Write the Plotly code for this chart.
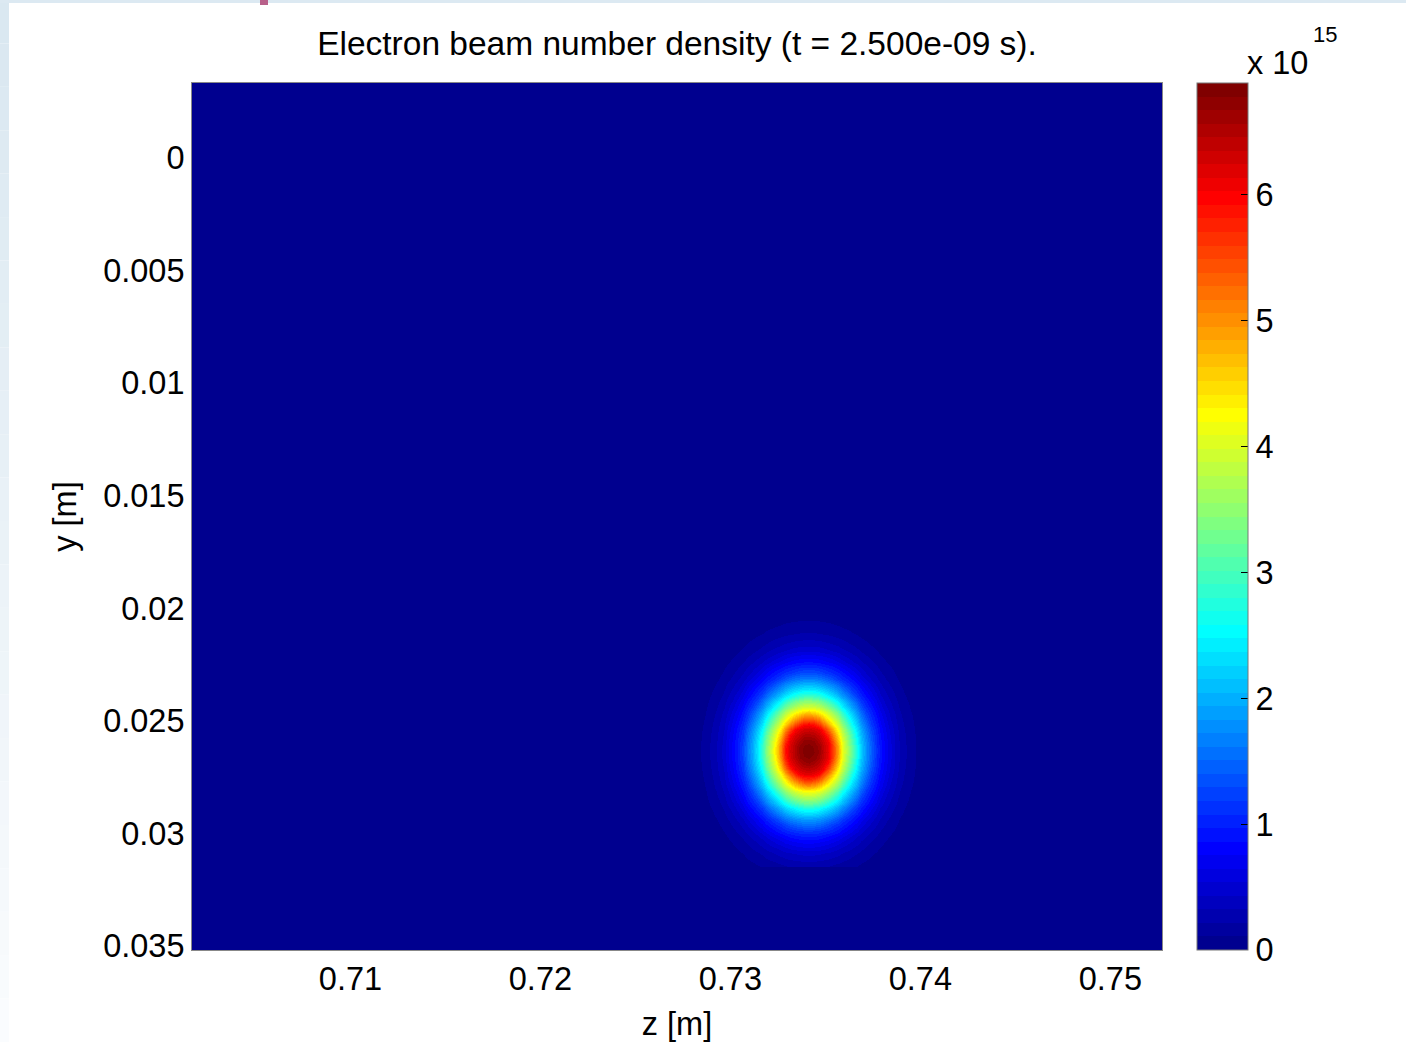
import numpy as np
import plotly.graph_objects as go

# ---------------- data ----------------
title_text = "Electron beam number density (t = 2.500e-09 s)."
peak_density = 6.89e15          # maximum value (top of colour bar)
beam_z0 = 0.7341                # beam centre, z [m]
beam_y0 = 0.02633               # beam centre, y [m]
y_over_z_aspect = 1.02          # beam is very slightly longer in y
y_cut = 0.03148                 # the halo is cut off below this y [m]

# radial density profile (distance [m] -> fraction of peak)
radial_dist = [0.0, 0.0005, 0.0010, 0.00115, 0.0015, 0.00176, 0.0022, 0.0026,
               0.0030, 0.0035, 0.0040, 0.0045, 0.0050, 0.0055, 0.00566,
               0.0060, 0.0065, 0.0070]
radial_frac = [1.0, 0.975, 0.90, 0.873, 0.73, 0.62, 0.49, 0.365,
               0.27, 0.17, 0.111, 0.065, 0.037, 0.019, 0.0157,
               0.009, 0.003, 0.0]

x_range = [0.70166, 0.75272]
y_range = [0.03518, -0.00333]
x_ticks = [0.71, 0.72, 0.73, 0.74, 0.75]
x_ticklabels = ["0.71", "0.72", "0.73", "0.74", "0.75"]
y_ticks = [0, 0.005, 0.01, 0.015, 0.02, 0.025, 0.03, 0.035]
y_ticklabels = ["0", "0.005", "0.01", "0.015", "0.02", "0.025", "0.03", "0.035"]
cb_ticks = [0, 1, 2, 3, 4, 5, 6]          # in units of 1e15
cb_scale = 1e15

# sampling grid for the image (fine near the beam, domain edges at zero)
step = 0.00025
z_grid = np.concatenate([[x_range[0]],
                         np.arange(beam_z0 - 0.0072, beam_z0 + 0.0072 + 1e-9, step),
                         [x_range[1]]])
y_inner = np.arange(beam_y0 - 0.0072, y_cut, step)
y_grid = np.concatenate([[y_range[1]], y_inner,
                         [y_cut - 0.00001, y_cut + 0.00001, y_range[0]]])
ZZ, YY = np.meshgrid(z_grid, y_grid)
rho = np.sqrt((ZZ - beam_z0) ** 2 + ((YY - beam_y0) / y_over_z_aspect) ** 2)
density = peak_density * np.interp(rho, radial_dist, radial_frac, right=0.0)
density[YY > y_cut] = 0.0

# ---------------- MATLAB jet(64) colour map (discrete) ----------------
jet_pos = [0, 7 / 63, 23 / 63, 39 / 63, 55 / 63, 1]
jet_r = [0, 0, 0, 1, 1, 0.5]
jet_g = [0, 0, 1, 1, 0, 0]
jet_b = [0.5625, 1, 1, 0, 0, 0]
n_lev = 64
colorscale = []
for i in range(n_lev):
    t = i / (n_lev - 1)
    r = np.interp(t, jet_pos, jet_r)
    g = np.interp(t, jet_pos, jet_g)
    b = np.interp(t, jet_pos, jet_b)
    c = f"rgb({round(r * 255)},{round(g * 255)},{round(b * 255)})"
    colorscale.append([i / n_lev, c])
    colorscale.append([(i + 1) / n_lev, c])

FONT = "Liberation Sans, Arial, Helvetica, sans-serif"
FS = 32.5

# layout geometry (pixels)
W, H = 1406, 1042
L, R, T, B = 192, 244, 83, 92
pw, ph = W - L - R, H - T - B

def px_x(p):
    return (p - L) / pw

def px_y(p):
    return (H - B - p) / ph

cb_x = px_x(1197)

fig = go.Figure()
fig.add_trace(go.Heatmap(
    x=z_grid, y=y_grid, z=density,
    zsmooth="best",
    colorscale=colorscale,
    zmin=0, zmax=peak_density,
    hoverinfo="skip",
    colorbar=dict(
        x=cb_x, xanchor="left", xpad=0,
        y=0, yanchor="bottom", ypad=0, len=1, lenmode="fraction",
        thickness=51, thicknessmode="pixels",
        outlinewidth=1, outlinecolor="#777777",
        tickvals=[v * cb_scale for v in cb_ticks],
        ticktext=[str(v) for v in cb_ticks],
        ticks="inside", ticklen=7, tickcolor="black", tickwidth=1,
        tickfont=dict(family=FONT, size=FS, color="black"),
    ),
))

shapes = []
# left-side colour-bar ticks
for v in cb_ticks[1:]:
    yy = v * cb_scale / peak_density
    shapes.append(dict(type="line", xref="paper", yref="paper",
                       x0=cb_x, x1=cb_x + 7 / pw, y0=yy, y1=yy,
                       line=dict(color="black", width=1)))
# slide frame strips (left gradient, top band, small mark)
n_seg = 24
left_top = np.array([218, 232, 241])
left_bot = np.array([250, 252, 254])
for k in range(n_seg):
    c = left_top + (left_bot - left_top) * k / (n_seg - 1)
    shapes.append(dict(type="rect", xref="paper", yref="paper",
                       x0=px_x(0), x1=px_x(9),
                       y0=px_y(H * (k + 1) / n_seg), y1=px_y(H * k / n_seg),
                       fillcolor=f"rgb({int(c[0])},{int(c[1])},{int(c[2])})",
                       line=dict(width=0)))
shapes.append(dict(type="rect", xref="paper", yref="paper",
                   x0=px_x(0), x1=px_x(W), y0=px_y(3), y1=px_y(0),
                   fillcolor="rgb(220,233,242)", line=dict(width=0)))
shapes.append(dict(type="rect", xref="paper", yref="paper",
                   x0=px_x(260), x1=px_x(268), y0=px_y(5), y1=px_y(0),
                   fillcolor="rgb(184,96,138)", line=dict(width=0)))

annotations = [
    dict(text="x 10", xref="paper", yref="paper", x=px_x(1245), y=px_y(63),
         xanchor="left", yanchor="middle", showarrow=False,
         font=dict(family=FONT, size=FS, color="black")),
    dict(text="15", xref="paper", yref="paper", x=px_x(1311), y=px_y(34),
         xanchor="left", yanchor="middle", showarrow=False,
         font=dict(family=FONT, size=22, color="black")),
]

fig.update_layout(
    width=W, height=H,
    margin=dict(l=L, r=R, t=T, b=B, pad=0, autoexpand=False),
    paper_bgcolor="white", plot_bgcolor="white",
    title=dict(text=title_text, x=(L + pw / 2) / W, xanchor="center",
               y=1 - 43 / H, yanchor="middle", yref="container",
               font=dict(family=FONT, size=33.5, color="black")),
    xaxis=dict(range=x_range, tickvals=x_ticks, ticktext=x_ticklabels,
               ticks="", showgrid=False, zeroline=False, automargin=False,
               showline=True, mirror=True, linecolor="#888888", linewidth=1,
               tickfont=dict(family=FONT, size=FS, color="black"),
               title=dict(text="z [m]", standoff=16,
                          font=dict(family=FONT, size=FS, color="black"))),
    yaxis=dict(range=y_range, tickvals=y_ticks, ticktext=y_ticklabels,
               ticks="", showgrid=False, zeroline=False, automargin=False,
               showline=True, mirror=True, linecolor="#888888", linewidth=1,
               tickfont=dict(family=FONT, size=FS, color="black"),
               title=dict(text="y [m]", standoff=16,
                          font=dict(family=FONT, size=FS, color="black"))),
    shapes=shapes,
    annotations=annotations,
    showlegend=False,
)

fig.write_html("out.html")
